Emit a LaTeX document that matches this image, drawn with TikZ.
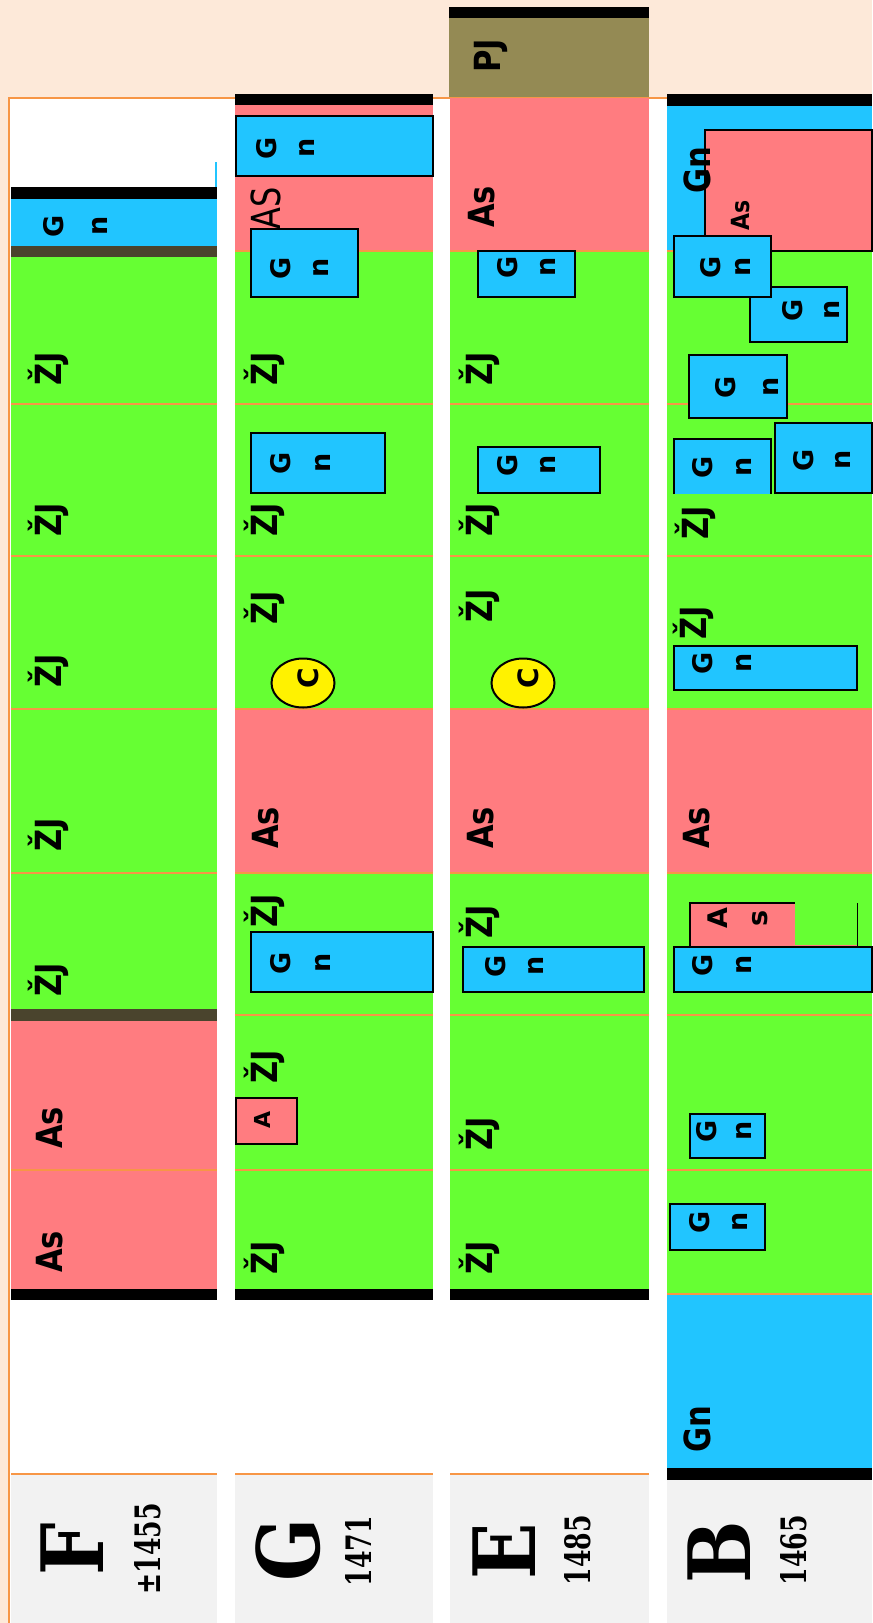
\documentclass[tikz,border=0pt]{standalone}
\usepackage{fontspec}
\newfontfamily\djs{DejaVu Sans}
\newfontfamily\djser{DejaVu Serif}
\usetikzlibrary{shapes.geometric}
\definecolor{peach}{RGB}{253,233,217}
\definecolor{cred}{RGB}{255,124,128}
\definecolor{cgreen}{RGB}{102,255,51}
\definecolor{cblue}{RGB}{33,197,255}
\definecolor{colive}{RGB}{148,138,84}
\definecolor{corange}{RGB}{247,150,70}
\definecolor{cgray}{RGB}{242,242,242}
\definecolor{cbrown}{RGB}{74,68,45}
\newcommand\hsq[1]{\scalebox{0.85}[1]{#1}}
\begin{document}
\begin{tikzpicture}[x=1bp,y=-1bp,
  sepl/.style={draw=corange,line width=2bp},
  bx/.style={draw=black,line width=2.5bp,fill=cblue},
  bxr/.style={draw=black,line width=2.5bp,fill=cred},
  tb/.style={draw=black,line width=1.4bp,fill=cblue},
  tbr/.style={draw=black,line width=1.4bp,fill=cred},
  lab/.style={rotate=90,inner sep=0pt,font=\djs\bfseries\fontsize{36bp}{40bp}\selectfont},
  gnt/.style={rotate=90,inner sep=0pt,align=center,font={\djs\bfseries\fontsize{27bp}{#1bp}\selectfont}},
  gnt/.default=38,
  big/.style={rotate=90,inner sep=0pt,font=\djser\bfseries\fontsize{86bp}{86bp}\selectfont},
  num/.style={rotate=90,inner sep=0pt,font=\djser\bfseries\fontsize{35bp}{35bp}\selectfont},
  cell/.style={ellipse,draw=black,fill=yellow,line width=2bp,minimum width=63bp,minimum height=49bp,inner sep=0pt}
]
\useasboundingbox (0,0) rectangle (872,1623);
\fill[peach] (0,0) rectangle (872,1623);
\fill[white] (9,98) rectangle (872,1623);
\draw[corange,line width=2bp] (9,1623) -- (9,98) -- (872,98);

% ---------------- column F
\fill[black] (11,187) rectangle (217,199);
\draw[cblue,line width=1.5bp] (216,162) -- (216,187);
\fill[cblue] (11,199) rectangle (217,246);
\fill[cbrown] (11,246) rectangle (217,257);
\fill[cgreen] (11,257) rectangle (217,1009);
\fill[cbrown] (11,1009) rectangle (217,1021);
\fill[cred] (11,1021) rectangle (217,1289);
\fill[black] (11,1289) rectangle (217,1300);
\fill[cgray] (11,1475) rectangle (217,1623);
\foreach \y in {404,556,709,873,1170,1474} \draw[sepl] (11,\y) -- (217,\y);
\node[gnt=44] (fgn) at (75,226) {G\\n};
\node[lab] (fz1) at (48,369) {\hsq{ŽJ}};
\node[lab] (fz2) at (48,520) {\hsq{ŽJ}};
\node[lab] (fz3) at (48,671) {\hsq{ŽJ}};
\node[lab] (fz4) at (48,835) {\hsq{ŽJ}};
\node[lab] (fz5) at (48,980) {\hsq{ŽJ}};
\node[lab] (fa1) at (50,1128) {\hsq{As}};
\node[lab] (fa2) at (50,1252) {\hsq{As}};
\node[big] (fF) at (72,1549) {\scalebox{0.86}[1]{F}};
\node[num] (fnum) at (148,1549) {\scalebox{0.72}[1]{±1455}};

% ---------------- column G
\fill[black] (235,94) rectangle (433,105);
\fill[cred] (235,105) rectangle (433,251);
\fill[cgreen] (235,251) rectangle (433,709);
\fill[cred] (235,709) rectangle (433,873);
\fill[cgreen] (235,873) rectangle (433,1289);
\fill[black] (235,1289) rectangle (433,1300);
\fill[cgray] (235,1475) rectangle (433,1623);
\foreach \y in {251,404,556,709,873,1015,1170,1474} \draw[sepl] (235,\y) -- (433,\y);
\draw[bx] (236,116) rectangle (433,176);
\node[gnt] (g1) at (285,148) {G\\n};
\node[rotate=90,inner sep=0pt,font=\djs\fontsize{40bp}{40bp}\selectfont] (gas) at (266,208) {\scalebox{0.8}[1]{AS}};
\draw[bx] (251,229) rectangle (358,297);
\node[gnt] (g2) at (299,268) {G\\n};
\node[lab] (gz1) at (264,369) {\hsq{ŽJ}};
\draw[bx] (251,433) rectangle (385,493);
\node[gnt=40] (g3) at (300,463) {G\\n};
\node[lab] (gz2) at (264,520) {\hsq{ŽJ}};
\node[lab] (gz3) at (264,608) {\hsq{ŽJ}};
\node[cell] (gc) at (303,683) {};
\node[rotate=90,inner sep=0pt,font=\djs\bfseries\fontsize{28bp}{28bp}\selectfont] (gct) at (308,678) {C};
\node[lab] (ga) at (266,828) {\hsq{As}};
\node[lab] (gz4) at (264,911) {\hsq{ŽJ}};
\draw[bx] (251,932) rectangle (433,992);
\node[gnt=40] (g4) at (300,963) {G\\n};
\node[lab] (gz5) at (264,1067) {\hsq{ŽJ}};
\draw[bxr] (236,1098) rectangle (297,1144);
\node[rotate=90,inner sep=0pt,font=\djs\bfseries\fontsize{22bp}{22bp}\selectfont] (gA) at (262,1120) {A};
\node[lab] (gz6) at (264,1258) {\hsq{ŽJ}};
\node[big] (gG) at (288,1550) {\scalebox{0.86}[1]{G}};
\node[num] (gnum) at (359,1551) {\scalebox{0.72}[1]{1471}};

% ---------------- column E
\fill[colive] (449,7) rectangle (649,97);
\fill[black] (449,7) rectangle (649,18);
\node[lab] (pj) at (491,56) {\hsq{PJ}};
\fill[cred] (450,98) rectangle (649,251);
\fill[cgreen] (450,251) rectangle (649,709);
\fill[cred] (450,709) rectangle (649,873);
\fill[cgreen] (450,873) rectangle (649,1289);
\fill[black] (450,1289) rectangle (649,1300);
\fill[cgray] (450,1475) rectangle (649,1623);
\foreach \y in {251,404,556,709,873,1015,1170,1474} \draw[sepl] (450,\y) -- (649,\y);
\node[lab] (ea1) at (482,207) {\hsq{As}};
\draw[bx] (478,251) rectangle (575,297);
\node[gnt] (e1) at (526,267) {G\\n};
\node[lab] (ez1) at (479,369) {\hsq{ŽJ}};
\draw[bx] (478,447) rectangle (600,493);
\node[gnt] (e2) at (526,465) {G\\n};
\node[lab] (ez2) at (479,520) {\hsq{ŽJ}};
\node[lab] (ez3) at (479,606) {\hsq{ŽJ}};
\node[cell] (ec) at (523,683) {};
\node[rotate=90,inner sep=0pt,font=\djs\bfseries\fontsize{28bp}{28bp}\selectfont] (ect) at (528,678) {C};
\node[lab] (ea2) at (481,828) {\hsq{As}};
\node[lab] (ez4) at (479,922) {\hsq{ŽJ}};
\draw[bx] (463,947) rectangle (644,992);
\node[gnt] (e3) at (514,966) {G\\n};
\node[lab] (ez5) at (479,1134) {\hsq{ŽJ}};
\node[lab] (ez6) at (479,1258) {\hsq{ŽJ}};
\node[big] (eE) at (504,1551) {\scalebox{0.86}[1]{E}};
\node[num] (enum) at (578,1550) {\scalebox{0.72}[1]{1485}};

% ---------------- column B
\fill[black] (667,94) rectangle (872,106);
\fill[cblue] (667,106) rectangle (872,251);
\fill[cgreen] (667,251) rectangle (872,709);
\fill[cred] (667,709) rectangle (872,873);
\fill[cgreen] (667,873) rectangle (872,1294);
\fill[cblue] (667,1294) rectangle (872,1468);
\fill[black] (667,1468) rectangle (872,1480);
\fill[cgray] (667,1480) rectangle (872,1623);
\foreach \y in {251,404,556,709,873,1015,1170,1294} \draw[sepl] (667,\y) -- (872,\y);
\draw[tbr] (705,130) rectangle (872,251);
\node[lab] (bgn1) at (697,170) {\hsq{Gn}};
\node[rotate=90,inner sep=0pt,font=\djs\bfseries\fontsize{25bp}{25bp}\selectfont] (bas) at (741,215) {\scalebox{0.88}[1]{As}};
\draw[tb] (750,287) rectangle (847,342);
\node[gnt=37] (b2) at (811,310) {G\\n};
\draw[tb] (674,236) rectangle (771,297);
\node[gnt=30] (b1) at (725,267) {G\\n};
\draw[tb] (689,355) rectangle (787,418);
\node[gnt=43] (b3) at (747,387) {G\\n};
\fill[cblue] (674,439) rectangle (771,494);
\draw[black,line width=1.4bp] (674,494) -- (674,439) -- (771,439) -- (771,494);
\node[gnt=39] (b4) at (722,467) {G\\n};
\draw[tb] (775,423) rectangle (872,493);
\node[gnt=37] (b5) at (822,460) {G\\n};
\node[lab] (bz1) at (695,523) {\hsq{ŽJ}};
\node[lab] (bz2) at (693,623) {\hsq{ŽJ}};
\draw[tb] (674,646) rectangle (857,690);
\node[gnt=39] (b6) at (722,663) {G\\n};
\node[lab] (ba) at (697,828) {\hsq{As}};
\fill[cred] (690,903) rectangle (795,947);
\draw[black,line width=1.4bp] (690,947) -- (690,903) -- (795,903);
\draw[black,line width=1bp] (857,903) -- (857,947);
\draw[cred,line width=1.2bp] (795,946) -- (857,946);
\node[gnt=40] (bas2) at (738,918) {A\\s};
\draw[tb] (674,947) rectangle (872,992);
\node[gnt=39] (b7) at (722,965) {G\\n};
\draw[tb] (690,1114) rectangle (765,1158);
\node[gnt=35] (b8) at (724,1131) {G\\n};
\draw[tb] (670,1204) rectangle (765,1250);
\node[gnt=38] (b9) at (718,1222) {G\\n};
\node[lab] (bgn2) at (697,1429) {\hsq{Gn}};
\node[big] (bB) at (719,1552) {\scalebox{0.86}[1]{B}};
\node[num] (bnum) at (794,1550) {\scalebox{0.72}[1]{1465}};
\end{tikzpicture}
\end{document}
